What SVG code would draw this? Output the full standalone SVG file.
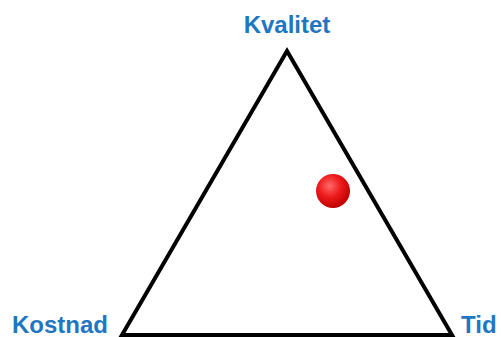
<svg xmlns="http://www.w3.org/2000/svg" width="501" height="337" viewBox="0 0 501 337">
<defs>
<style>
.lbl{font-family:"Liberation Sans",Arial,sans-serif;font-weight:bold;font-size:24px;fill:#1f76c2}
</style>
<radialGradient id="ball" cx="0.4" cy="0.35" r="0.65">
<stop offset="0" stop-color="#ff6a6a"/>
<stop offset="0.5" stop-color="#ee1c1c"/>
<stop offset="1" stop-color="#c00000"/>
</radialGradient>
</defs>
<rect width="501" height="337" fill="#ffffff"/>
<g id="connectors">
<polygon points="287,51 122,335 452,335" fill="none" stroke="#000" stroke-width="4" stroke-linejoin="miter"/>
</g>
<g id="kvalitet"><text class="lbl" x="287" y="33" text-anchor="middle">Kvalitet</text></g>
<g id="kostnad"><text class="lbl" x="12" y="333">Kostnad</text></g>
<g id="tid"><text class="lbl" x="461" y="333">Tid</text></g>
<g id="ball-node"><circle cx="333" cy="191" r="17" fill="url(#ball)"/></g>
</svg>
